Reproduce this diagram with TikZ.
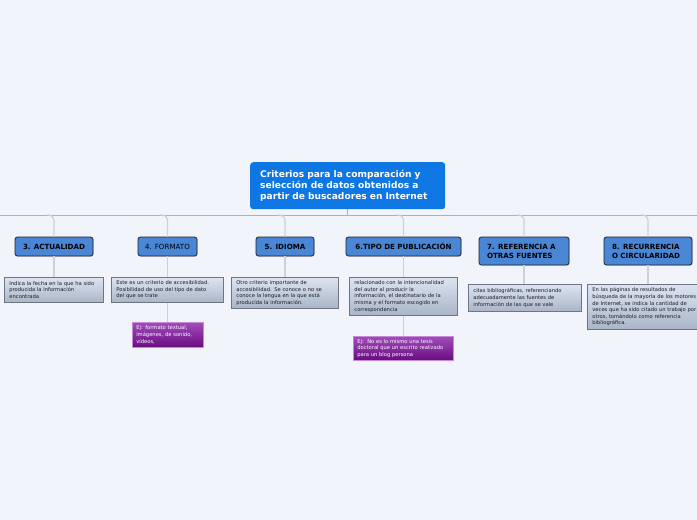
\documentclass[tikz,border=0pt]{standalone}
\usepackage{fontspec}
\setmainfont{DejaVu Sans}
\usetikzlibrary{shadows,calc}
\definecolor{bg}{HTML}{F2F4FC}
\definecolor{cblue}{HTML}{0E77E4}
\definecolor{tblue}{HTML}{4A86D6}
\definecolor{tborder}{HTML}{1C2030}
\definecolor{dtop}{HTML}{DCE4F0}
\definecolor{dbot}{HTML}{A9B5C7}
\definecolor{dborder}{HTML}{6E7684}
\definecolor{etop}{HTML}{A24DBC}
\definecolor{ebot}{HTML}{690C80}
\definecolor{eborder}{HTML}{C58AD6}
\definecolor{hline}{HTML}{ACB0BA}
\definecolor{vline}{HTML}{CDD0D8}
\definecolor{dtext}{HTML}{1A1E28}
\newcommand\oneline[1]{\mbox{#1}}
\tikzset{
  central/.style={fill=cblue, rounded corners=3pt, text=white,
    font=\bfseries\fontsize{9.1}{11}\selectfont, align=left, anchor=north west,
    inner xsep=10pt, inner ysep=0pt, minimum width=195pt, minimum height=47pt, text width=175pt},
  topic/.style={fill=tblue, draw=tborder, line width=0.8pt, rounded corners=2.5pt,
    font=\bfseries\fontsize{7.1}{9}\selectfont, inner sep=0pt, anchor=center,
    drop shadow={opacity=0.25, shadow xshift=0.8pt, shadow yshift=-0.9pt}},
  desc/.style={draw=dborder, line width=0.8pt, top color=dtop, bottom color=dbot, text=dtext,
    font=\fontsize{5.2}{6.6}\selectfont, align=left, inner xsep=5pt, inner ysep=0pt,
    anchor=north west},
  ex/.style={draw=eborder, line width=0.6pt, top color=etop, bottom color=ebot, text=white,
    font=\fontsize{5.2}{6.6}\selectfont, align=left, inner xsep=4pt, inner ysep=0pt,
    anchor=north west},
  hconn/.style={draw=hline, line width=1pt},
  vconn/.style={draw=vline, line width=1.2pt, rounded corners=5pt},
}
\begin{document}
\begin{tikzpicture}[x=1pt,y=-1pt]
\fill[bg] (0,0) rectangle (697,520);
\useasboundingbox (0,0) rectangle (697,520);
\clip (0,0) rectangle (697,520);

% central
\node[central] (c) at (250,162) {Criterios para la comparación y\\selección de datos obtenidos a\\partir de buscadores en Internet};

% horizontal line
\coordinate (hl) at (0,215);
\coordinate (hr) at (697,215);
\draw[hconn] (hl) -- (hr);
\draw[hconn] (c.south) -- (c.south |- hl);

% topics
\node[topic, minimum width=78pt, minimum height=19pt] (t3) at (54,246.5) {3. ACTUALIDAD};
\node[topic, minimum width=59pt, minimum height=19pt, font=\fontsize{7.1}{9}\selectfont] (t4) at (167.5,246.5) {4. FORMATO};
\node[topic, minimum width=58pt, minimum height=19pt] (t5) at (285,246.5) {5. IDIOMA};
\node[topic, minimum width=115pt, minimum height=19pt] (t6) at (403.5,246.5) {6.TIPO DE PUBLICACIÓN};
\node[topic, minimum width=90pt, minimum height=28pt, align=left, text width=74pt] (t7) at (524,251) {7. REFERENCIA A\\OTRAS FUENTES};
\node[topic, minimum width=88pt, minimum height=28pt, align=left, text width=72pt] (t8) at (648,251) {8. RECURRENCIA\\O CIRCULARIDAD};

% descriptions
\node[desc, minimum width=99pt, minimum height=25pt, text width=89pt] (d3) at (4,277) {\oneline{Indica la fecha en la que ha sido}\\\oneline{producida la información}\\encontrada};
\node[desc, minimum width=112pt, minimum height=25pt, text width=102pt] (d4) at (111,277) {\oneline{Este es un criterio de accesibilidad.}\\\oneline{Posibilidad de uso del tipo de dato}\\\oneline{del que se trate}};
\node[desc, minimum width=107pt, minimum height=31pt, text width=97pt] (d5) at (231,277) {\oneline{Otro criterio importante de}\\\oneline{accesibilidad. Se conoce o no se}\\\oneline{conoce la lengua en la que está}\\\oneline{producida la información.}};
\node[desc, minimum width=108pt, minimum height=38pt, text width=98pt] (d6) at (349,277) {\oneline{relacionado con la intencionalidad}\\\oneline{del autor al producir la}\\\oneline{información, el destinatario de la}\\\oneline{misma y el formato escogido en}\\correspondencia};
\node[desc, minimum width=113pt, minimum height=27pt, text width=103pt] (d7) at (468,284) {\oneline{citas bibliográficas, referenciando}\\\oneline{adecuadamente las fuentes de}\\\oneline{información de las que se vale}};
\node[desc, minimum width=118pt, minimum height=45pt, text width=108pt] (d8) at (587,284) {\oneline{En las páginas de resultados de}\\\oneline{búsqueda de la mayoría de los motores}\\\oneline{de Internet, se indica la cantidad de}\\\oneline{veces que ha sido citado un trabajo por}\\\oneline{otros, tomándolo como referencia}\\bibliográfica.};

% examples
\node[ex, minimum width=71pt, minimum height=25pt, text width=63pt] (e4) at (132,322) {\oneline{Ej: formato textual,}\\\oneline{imágenes, de sonido,}\\vídeos,};
\node[ex, minimum width=100pt, minimum height=24pt, text width=92pt] (e6) at (353,336) {\oneline{Ej:\ \ No es lo mismo una tesis}\\\oneline{doctoral que un escrito realizado}\\\oneline{para un blog persona}};

% connectors
\foreach \t in {t3,t4,t5,t6,t7,t8}{
  \draw[vconn] ([xshift=-7pt]\t.north |- hl) -| (\t.north);
}
\draw[vconn] (t3.south) -- (t3.south |- d3.north);
\draw[vconn] (t4.south) -- (t4.south |- d4.north);
\draw[vconn] (t5.south) -- (t5.south |- d5.north);
\draw[vconn] (t6.south) -- (t6.south |- d6.north);
\draw[vconn] (t7.south) -- (t7.south |- d7.north);
\draw[vconn] (t8.south) -- (t8.south |- d8.north);
\draw[vconn] (t4.south |- d4.south) -- (t4.south |- e4.north);
\draw[vconn] (t6.south |- d6.south) -- (t6.south |- e6.north);
\end{tikzpicture}
\end{document}
